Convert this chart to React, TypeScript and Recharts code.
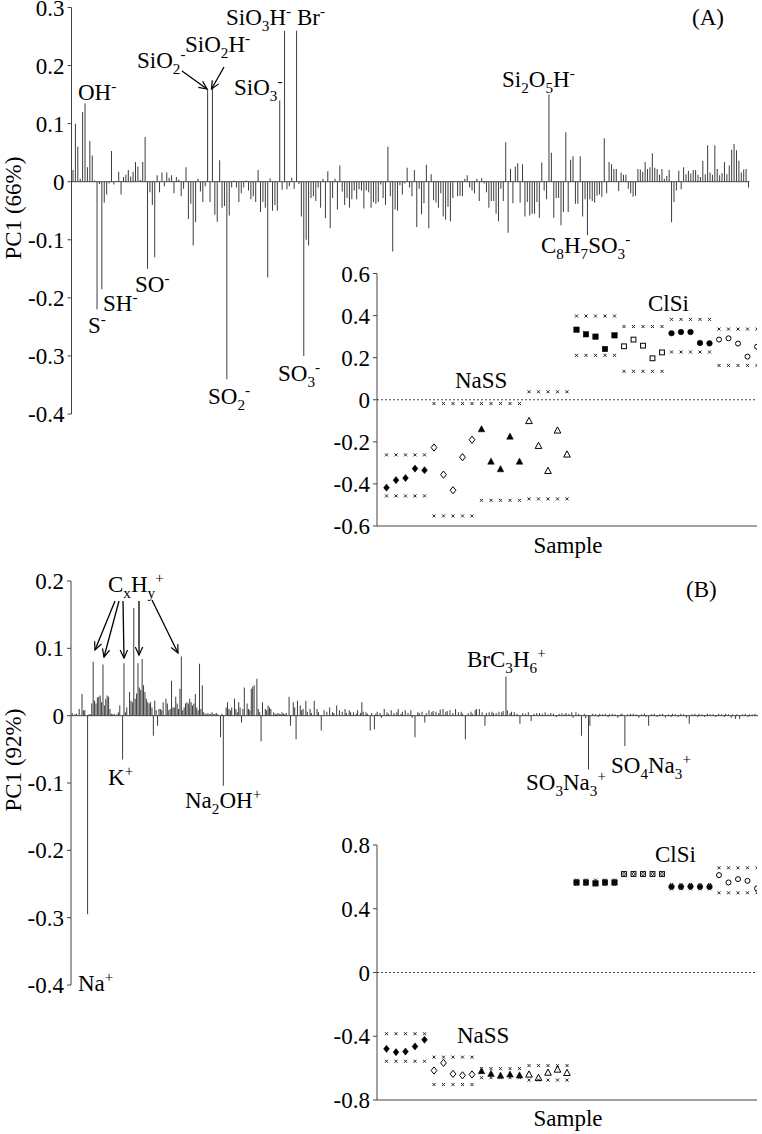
import React from 'react';
import { BarChart, Bar, XAxis, YAxis, ReferenceLine, ScatterChart, Scatter } from 'recharts';

const FONT = '"Liberation Serif", "Times New Roman", Times, serif';
const INK = '#000';
const AXIS = '#444';
const BAR = '#3c3c3c';
const FS = 23;

// ---------- Panel A: PC1 loadings (negative ions), one value per variable ----------
const loadingsA = [
  0.02, 0.1, 0.06, 0.005, 0.12, 0.135, 0.025, 0.07, 0.045, 0.002,
  -0.22, -0.004, -0.185, -0.036, -0.022, -0.003, 0.053, -0.005, 0.001, 0.017,
  -0.022, 0.008, 0.012, 0.02, 0.009, 0.017, 0.034, 0.026, 0.003, 0.034,
  0.077, -0.15, -0.018, -0.04, -0.13, 0.011, -0.018, 0.016, -0.008, 0.016,
  0.007, 0.011, -0.02, 0.008, 0.004, -0.025, -0.012, 0.025, -0.064, -0.038,
  -0.11, -0.07, 0.005, -0.017, -0.035, -0.008, 0.16, -0.035, 0.16, -0.057,
  -0.069, 0.037, -0.045, -0.042, -0.34, -0.058, -0.01, 0.002, -0.01, -0.035,
  -0.02, -0.01, 0.002, -0.015, -0.03, -0.025, -0.035, 0.02, -0.052, -0.035,
  -0.045, -0.165, 0.006, -0.05, -0.04, -0.05, 0.14, -0.014, 0.26, -0.013,
  -0.008, 0.007, -0.012, 0.26, -0.004, -0.06, -0.3, -0.1, -0.11, -0.028,
  -0.025, -0.033, -0.01, -0.045, 0.005, -0.063, 0.018, -0.08, -0.028, 0.005,
  -0.048, 0.028, -0.017, -0.04, -0.028, -0.045, -0.03, -0.015, -0.03, -0.013,
  -0.015, -0.046, -0.015, -0.018, -0.045, -0.035, -0.038, -0.035, -0.005, -0.028,
  -0.04, 0.06, -0.025, -0.12, -0.048, -0.05, -0.006, -0.022, -0.003, 0.024,
  -0.01, -0.025, 0.02, -0.078, -0.012, -0.056, -0.037, 0.029, -0.08, 0.013,
  -0.032, -0.036, -0.045, -0.02, -0.06, -0.065, -0.043, -0.068, -0.028, 0.001,
  -0.025, -0.024, -0.025, 0.005, 0.011, -0.01, -0.015, -0.02, 0.005, -0.033,
  0.006, -0.003, -0.018, -0.045, -0.033, -0.033, -0.055, -0.068, -0.012, -0.033,
  0.068, -0.088, 0.022, -0.037, 0.026, 0.032, -0.036, 0.03, -0.06, -0.035,
  -0.058, -0.055, -0.055, -0.035, -0.062, 0.033, -0.015, -0.03, 0.15, 0.05,
  -0.062, -0.028, -0.028, -0.075, -0.052, 0.085, -0.052, 0.038, 0.044, -0.038,
  -0.038, 0.044, -0.06, -0.03, -0.092, -0.03, -0.033, -0.036, -0.024, -0.022,
  -0.026, 0.075, -0.02, 0.034, 0.03, 0.022, 0.022, -0.016, 0.016, 0.012,
  0.012, -0.012, -0.02, -0.026, -0.024, 0.022, 0.021, 0.017, 0.034, 0.022,
  0.025, 0.049, 0.024, 0.022, 0.012, 0.022, 0.005, 0.01, 0.02, -0.07,
  -0.035, -0.015, 0.019, -0.013, 0.025, 0.013, 0.019, 0.014, 0.02, 0.02,
  0.012, 0.008, 0.036, 0.013, 0.063, 0.016, 0.012, 0.063, 0.022, 0.011,
  0.015, 0.034, 0.013, 0.028, 0.055, 0.065, 0.054, 0.036, 0.016, 0.021,
  0.022, -0.01,
];
const ticksA = [-0.4, -0.3, -0.2, -0.1, 0, 0.1, 0.2, 0.3];

// ---------- Panel B: PC1 loadings (positive ions), [variable index, loading] ----------
const loadingsB: Array<[number, number]> = [
  [0, 0.004], [2, 0.002], [3, 0.003], [5, 0.01], [7, 0.032], [8, 0.008], [9, 0.008], [11, -0.295],
  [12, 0.002], [13, 0.002], [14, 0.018], [15, 0.08], [16, 0.022], [17, 0.018], [18, 0.027], [19, 0.028],
  [20, 0.03], [21, 0.02], [22, 0.076], [23, 0.015], [24, 0.025], [25, 0.03], [26, 0.028], [27, 0.01],
  [28, 0.003], [29, 0.002], [30, 0.003], [32, 0.002], [33, 0.005], [34, 0.015], [36, -0.065], [37, 0.078],
  [38, 0.005], [39, 0.012], [41, 0.035], [42, 0.022], [43, 0.02], [44, 0.16], [45, 0.025], [46, 0.033],
  [47, 0.078], [48, 0.042], [49, 0.038], [50, 0.084], [51, 0.045], [52, 0.035], [53, 0.025], [54, 0.02],
  [55, 0.018], [56, 0.02], [57, 0.012], [58, -0.03], [59, 0.022], [60, 0.008], [61, -0.015], [62, 0.01],
  [63, 0.01], [64, 0.008], [65, 0.02], [67, 0.025], [68, 0.018], [69, 0.008], [70, 0.01], [71, 0.052],
  [72, 0.012], [73, 0.012], [74, 0.028], [75, 0.018], [76, 0.01], [77, 0.04], [78, 0.088], [79, 0.008],
  [80, 0.012], [81, 0.018], [82, 0.02], [83, 0.018], [84, 0.025], [85, 0.02], [86, 0.015], [87, 0.018],
  [88, 0.032], [89, 0.012], [90, 0.008], [91, 0.077], [92, 0.01], [93, 0.045], [94, 0.005], [95, 0.003],
  [96, 0.002], [97, 0.004], [98, 0.002], [99, 0.003], [100, 0.005], [101, 0.002], [102, 0.003], [103, 0.004],
  [104, 0.002], [106, -0.032], [107, 0.003], [108, -0.104], [110, 0.012], [111, 0.02], [112, 0.01], [113, 0.008],
  [114, 0.012], [116, 0.025], [117, 0.01], [118, 0.005], [119, 0.02], [120, 0.012], [121, -0.01], [122, 0.01],
  [123, 0.042], [125, 0.018], [126, 0.01], [127, 0.008], [128, 0.04], [129, 0.043], [130, 0.045], [132, 0.055],
  [133, 0.01], [134, 0.005], [135, -0.038], [136, 0.02], [138, 0.01], [139, 0.008], [140, 0.015], [141, 0.012],
  [142, 0.01], [144, 0.005], [145, 0.003], [146, 0.002], [147, 0.004], [148, 0.003], [149, 0.002], [150, 0.005],
  [151, 0.003], [152, 0.002], [153, 0.004], [155, 0.028], [156, -0.015], [158, 0.02], [159, 0.012], [160, -0.035],
  [161, 0.022], [163, 0.015], [164, 0.008], [165, 0.01], [167, 0.022], [168, 0.006], [170, 0.01], [171, 0.004],
  [173, 0.022], [175, 0.01], [176, 0.005], [178, -0.022], [180, 0.008], [182, 0.006], [184, 0.012], [186, 0.005],
  [187, 0.004], [189, 0.015], [191, 0.008], [193, 0.006], [195, 0.01], [196, 0.004], [198, 0.008], [199, 0.005],
  [201, 0.005], [203, 0.003], [204, 0.008], [206, 0.004], [207, 0.02], [208, 0.006], [210, 0.005], [211, 0.003],
  [213, -0.022], [214, 0.004], [216, -0.02], [217, 0.003], [218, 0.006], [220, 0.004], [221, -0.003], [223, 0.01],
  [225, 0.005], [226, 0.003], [228, 0.008], [230, 0.004], [232, 0.005], [233, 0.01], [235, 0.003], [236, 0.006],
  [238, 0.008], [240, 0.004], [242, 0.008], [243, -0.003], [245, -0.032], [247, 0.005], [248, 0.004], [250, 0.006],
  [252, -0.01], [253, 0.004], [255, 0.008], [257, 0.005], [258, 0.007], [260, 0.006], [262, 0.004], [263, 0.009],
  [265, 0.01], [267, 0.005], [268, 0.007], [270, 0.008], [272, 0.004], [274, 0.01], [276, 0.005], [278, 0.006],
  [279, 0.003], [281, -0.035], [283, 0.004], [285, 0.006], [286, 0.003], [288, 0.008], [289, 0.01], [291, 0.01],
  [293, 0.005], [295, -0.015], [296, 0.004], [298, 0.005], [300, 0.006], [301, 0.004], [303, 0.004], [305, 0.006],
  [307, 0.005], [308, 0.007], [310, 0.058], [311, 0.008], [313, 0.004], [314, 0.006], [316, 0.005], [318, 0.003],
  [320, -0.012], [322, 0.004], [324, 0.003], [326, 0.005], [328, -0.008], [330, 0.003], [332, 0.004], [334, 0.004],
  [336, 0.003], [338, 0.005], [340, 0.002], [342, 0.004], [344, 0.003], [346, -0.002], [348, 0.003], [350, 0.004],
  [352, 0.002], [353, 0.004], [355, 0.003], [357, 0.005], [358, -0.003], [360, 0.005], [362, 0.003], [364, -0.03],
  [366, 0.003], [367, -0.004], [369, -0.08], [370, -0.015], [372, 0.003], [374, 0.002], [376, -0.002], [377, 0.003],
  [379, 0.002], [381, 0.003], [383, -0.002], [384, 0.002], [386, 0.003], [388, 0.002], [390, -0.003], [392, 0.002],
  [393, 0.003], [395, -0.045], [397, 0.002], [399, 0.003], [401, 0.003], [403, 0.002], [405, -0.003], [407, 0.002],
  [409, 0.003], [410, -0.002], [412, -0.015], [414, 0.002], [416, 0.003], [418, -0.002], [420, 0.002], [422, 0.003],
  [424, -0.003], [426, 0.002], [428, -0.002], [429, 0.003], [431, 0.002], [433, -0.002], [435, 0.003], [437, 0.002],
  [439, -0.003], [441, -0.012], [443, 0.002], [445, 0.003], [447, -0.002], [448, 0.003], [450, 0.002], [452, -0.002],
  [454, 0.003], [456, 0.002], [458, 0.002], [460, -0.002], [462, 0.003], [464, 0.002], [466, -0.002], [467, 0.003],
  [469, 0.002], [471, -0.003], [472, 0.002], [474, -0.005], [475, 0.002], [477, -0.005], [479, 0.002], [481, 0.003],
  [483, -0.002], [484, 0.002], [486, 0.002], [488, 0.003],
];
const ticksB = [-0.4, -0.3, -0.2, -0.1, 0, 0.1, 0.2];

// ---------- Insets: PC1 scores per sample ----------
const sampleGroups = ['diamond', 'diamondOpen', 'triangle', 'triangleOpen', 'square', 'squareOpen', 'circle', 'circleOpen'];

const scoresA = [
  -0.418, -0.382, -0.372, -0.327, -0.335,
  -0.227, -0.356, -0.43, -0.273, -0.19,
  -0.14, -0.294, -0.33, -0.175, -0.294,
  -0.101, -0.219, -0.338, -0.146, -0.26,
  0.333, 0.311, 0.3, 0.241, 0.306,
  0.254, 0.286, 0.257, 0.197, 0.225,
  0.316, 0.322, 0.322, 0.27, 0.268,
  0.286, 0.292, 0.267, 0.205, 0.252,
];
const upperLimitA = [-0.262, -0.018, -0.018, 0.038, 0.398, 0.348, 0.382, 0.336];
const lowerLimitA = [-0.457, -0.552, -0.478, -0.471, 0.211, 0.135, 0.227, 0.163];
const ticksInsetA = [-0.6, -0.4, -0.2, 0, 0.2, 0.4, 0.6];

const scoresB = [
  -0.479, -0.5, -0.496, -0.464, -0.422,
  -0.615, -0.567, -0.636, -0.645, -0.64,
  -0.619, -0.636, -0.647, -0.64, -0.645,
  -0.64, -0.661, -0.628, -0.609, -0.63,
  0.565, 0.565, 0.559, 0.565, 0.565,
  0.618, 0.618, 0.618, 0.618, 0.618,
  0.538, 0.538, 0.54, 0.538, 0.538,
  0.611, 0.565, 0.586, 0.575, 0.528,
];
const upperLimitB = [-0.384, -0.531, -0.603, -0.584, 0.58, 0.628, 0.552, 0.657];
const lowerLimitB = [-0.557, -0.703, -0.66, -0.675, 0.552, 0.608, 0.525, 0.5];
const ticksInsetB = [-0.8, -0.4, 0, 0.4, 0.8];

const tickStyle = { fontSize: FS, fontFamily: FONT, fill: INK };

function Marker(props: any) {
  const { cx, cy, kind } = props;
  if (typeof cx !== 'number' || typeof cy !== 'number') return <g />;
  const open = kind.endsWith('Open');
  const fill = open ? '#fff' : '#000';
  const stroke = '#000';
  if (kind.startsWith('diamond')) {
    const d = `M${cx},${cy - 3.6}L${cx + 2.9},${cy}L${cx},${cy + 3.6}L${cx - 2.9},${cy}Z`;
    return <path d={d} fill={fill} stroke={stroke} strokeWidth={open ? 1 : 0.5} />;
  }
  if (kind.startsWith('triangle')) {
    const d = `M${cx},${cy - 3.6}L${cx + 3.3},${cy + 2.6}L${cx - 3.3},${cy + 2.6}Z`;
    return <path d={d} fill={fill} stroke={stroke} strokeWidth={open ? 1 : 0.5} />;
  }
  if (kind.startsWith('square')) {
    const h = open ? 2.4 : 2.7;
    return <rect x={cx - h} y={cy - h} width={2 * h} height={2 * h} fill={fill} stroke={stroke} strokeWidth={open ? 1 : 0.5} />;
  }
  if (kind.startsWith('circle')) {
    return <circle cx={cx} cy={cy} r={open ? 2.5 : 2.8} fill={fill} stroke={stroke} strokeWidth={open ? 1 : 0.5} />;
  }
  // confidence limit: small x
  const r = 1.5;
  return (
    <g stroke="#222" strokeWidth={1}>
      <line x1={cx - r} y1={cy - r} x2={cx + r} y2={cy + r} />
      <line x1={cx - r} y1={cy + r} x2={cx + r} y2={cy - r} />
    </g>
  );
}

function Inset(props: any) {
  const { top, scores, upper, lower, domain, ticks, marginTop, marginBottom } = props;
  const samples = sampleGroups.map((kind, g) => {
    const vals: number[] = scores.slice(g * 5, g * 5 + 5);
    return {
      kind,
      points: vals.map((y, k) => ({ x: g * 5 + k + 1, y })),
      limits: vals.flatMap((_, k) => [
        { x: g * 5 + k + 1, y: upper[g] },
        { x: g * 5 + k + 1, y: lower[g] },
      ]),
    };
  });
  return (
    <div style={{ position: 'absolute', left: 300, top }}>
      <ScatterChart width={462} height={300} margin={{ top: marginTop, right: 5, bottom: marginBottom, left: 0 }}>
        <XAxis type="number" dataKey="x" domain={[0, 40]} tick={false} tickLine={false}
          axisLine={{ stroke: AXIS }} height={20} allowDataOverflow />
        <YAxis type="number" dataKey="y" domain={domain} ticks={ticks} interval={0} width={77}
          tickSize={4} tickMargin={3} tick={tickStyle} axisLine={{ stroke: AXIS }} tickLine={{ stroke: AXIS }}
          allowDataOverflow />
        <ReferenceLine y={0} stroke="#444" strokeDasharray="2 2" />
        {samples.map((s) => (
          <Scatter key={s.kind + '-p'} data={s.points} isAnimationActive={false}
            shape={(p: any) => <Marker cx={p.cx} cy={p.cy} kind={s.kind} />} />
        ))}
        {samples.map((s) => (
          <Scatter key={s.kind + '-l'} data={s.limits} isAnimationActive={false}
            shape={(p: any) => <Marker cx={p.cx} cy={p.cy} kind="limit" />} />
        ))}
      </ScatterChart>
    </div>
  );
}

function Chem(props: any) {
  const { x, y, f, size = FS, anchor } = props;
  const parts: Array<[string, string]> = [];
  for (let k = 0; k < f.length; k++) {
    const c = f[k];
    if ((c === '_' || c === '^') && k + 1 < f.length) {
      parts.push([f[k + 1], c === '_' ? 'b' : 'p']);
      k++;
    } else if (parts.length && parts[parts.length - 1][1] === 'n') {
      parts[parts.length - 1][0] += c;
    } else {
      parts.push([c, 'n']);
    }
  }
  let cur = 0;
  return (
    <text x={x} y={y} fontFamily={FONT} fontSize={size} fill={INK} textAnchor={anchor}>
      {parts.map(([t, m], i) => {
        const target = m === 'b' ? size * 0.25 : m === 'p' ? -size * 0.38 : 0;
        const dy = target - cur;
        cur = target;
        return (
          <tspan key={i} dy={dy} fontSize={m === 'n' ? size : size * 0.66}>{t}</tspan>
        );
      })}
    </text>
  );
}

const labelsA: Array<[number, number, string]> = [
  [78, 100, 'OH^-'], [137, 68, 'SiO_2^-'], [185, 52, 'SiO_2H^-'], [234, 95, 'SiO_3^-'],
  [226, 25, 'SiO_3H^-'], [297, 25, 'Br^-'], [502, 87, 'Si_2O_5H^-'], [88, 333, 'S^-'],
  [103, 311, 'SH^-'], [135, 292, 'SO^-'], [208, 404, 'SO_2^-'], [278, 381, 'SO_3^-'],
  [541, 253, 'C_8H_7SO_3^-'], [692, 25, '(A)'], [455, 388, 'NaSS'], [648, 311, 'ClSi'],
];
const labelsB: Array<[number, number, string]> = [
  [108, 592, 'C_xH_y^+'], [108, 785, 'K^+'], [185, 808, 'Na_2OH^+'], [78, 991, 'Na^+'],
  [467, 667, 'BrC_3H_6^+'], [526, 790, 'SO_3Na_3^+'], [611, 773, 'SO_4Na_3^+'], [686, 597, '(B)'],
  [655, 862, 'ClSi'], [457, 1043, 'NaSS'],
];
const arrows: Array<[number, number, number, number]> = [
  [182, 71, 207, 89], [224, 67, 211.5, 89],
  [115, 601, 95, 650], [119, 601, 104, 657], [123, 601, 124, 658], [139, 601, 139, 655], [152, 600, 178, 653],
];

export default function App() {
  const dataA = loadingsA.map((v, i) => ({ i, v }));
  const dataB = loadingsB.map(([i, v]) => ({ i, v }));
  return (
    <div style={{ position: 'absolute', left: 0, top: 0, width: 762, height: 1134, background: '#fff', overflow: 'hidden' }}>
      <div style={{ position: 'absolute', left: 0, top: 0 }}>
        <BarChart width={762} height={430} data={dataA} margin={{ top: 7.5, right: 12.6, bottom: 16, left: 0.5 }}>
          <XAxis dataKey="i" hide />
          <YAxis type="number" domain={[-0.4, 0.3]} ticks={ticksA} interval={0} width={71} tickSize={4} tickMargin={3}
            tick={tickStyle} axisLine={{ stroke: AXIS }} tickLine={{ stroke: AXIS }} allowDataOverflow />
          <ReferenceLine y={0} stroke={AXIS} />
          <Bar dataKey="v" fill={BAR} barSize={1} isAnimationActive={false} />
        </BarChart>
      </div>
      <Inset top={260} scores={scoresA} upper={upperLimitA} lower={lowerLimitA} domain={[-0.6, 0.6]}
        ticks={ticksInsetA} marginTop={13.5} marginBottom={14} />
      <div style={{ position: 'absolute', left: 0, top: 560 }}>
        <BarChart width={762} height={440} data={dataB} margin={{ top: 21, right: 4, bottom: 15, left: 0 }}>
          <XAxis type="number" dataKey="i" domain={[-1, 490]} hide allowDataOverflow />
          <YAxis type="number" domain={[-0.4, 0.2]} ticks={ticksB} interval={0} width={71} tickSize={4} tickMargin={3}
            tick={tickStyle} axisLine={{ stroke: AXIS }} tickLine={{ stroke: AXIS }} allowDataOverflow />
          <ReferenceLine y={0} stroke={AXIS} />
          <Bar dataKey="v" fill={BAR} barSize={1} isAnimationActive={false} />
        </BarChart>
      </div>
      <Inset top={830} scores={scoresB} upper={upperLimitB} lower={lowerLimitB} domain={[-0.8, 0.8]}
        ticks={ticksInsetB} marginTop={15} marginBottom={10} />
      <svg width={762} height={1134} style={{ position: 'absolute', left: 0, top: 0, pointerEvents: 'none' }}>
        <defs>
          <marker id="ah" markerWidth={10} markerHeight={10} refX={8.5} refY={4.5} orient="auto" markerUnits="userSpaceOnUse">
            <path d="M0.5,0.8 L8.5,4.5 L0.5,8.2" fill="none" stroke="#000" strokeWidth={1.2} />
          </marker>
        </defs>
        {arrows.map(([x1, y1, x2, y2], k) => (
          <line key={k} x1={x1} y1={y1} x2={x2} y2={y2} stroke="#000" strokeWidth={1.3} markerEnd="url(#ah)" />
        ))}
        {labelsA.map(([x, y, f], k) => <Chem key={'a' + k} x={x} y={y} f={f} />)}
        {labelsB.map(([x, y, f], k) => <Chem key={'b' + k} x={x} y={y} f={f} />)}
        <text x={568} y={553} textAnchor="middle" fontFamily={FONT} fontSize={FS} fill={INK}>Sample</text>
        <text x={568} y={1126} textAnchor="middle" fontFamily={FONT} fontSize={FS} fill={INK}>Sample</text>
        <text transform="translate(21,208) rotate(-90)" textAnchor="middle" fontFamily={FONT} fontSize={FS} fill={INK}>PC1 (66%)</text>
        <text transform="translate(21,760) rotate(-90)" textAnchor="middle" fontFamily={FONT} fontSize={FS} fill={INK}>PC1 (92%)</text>
      </svg>
    </div>
  );
}
